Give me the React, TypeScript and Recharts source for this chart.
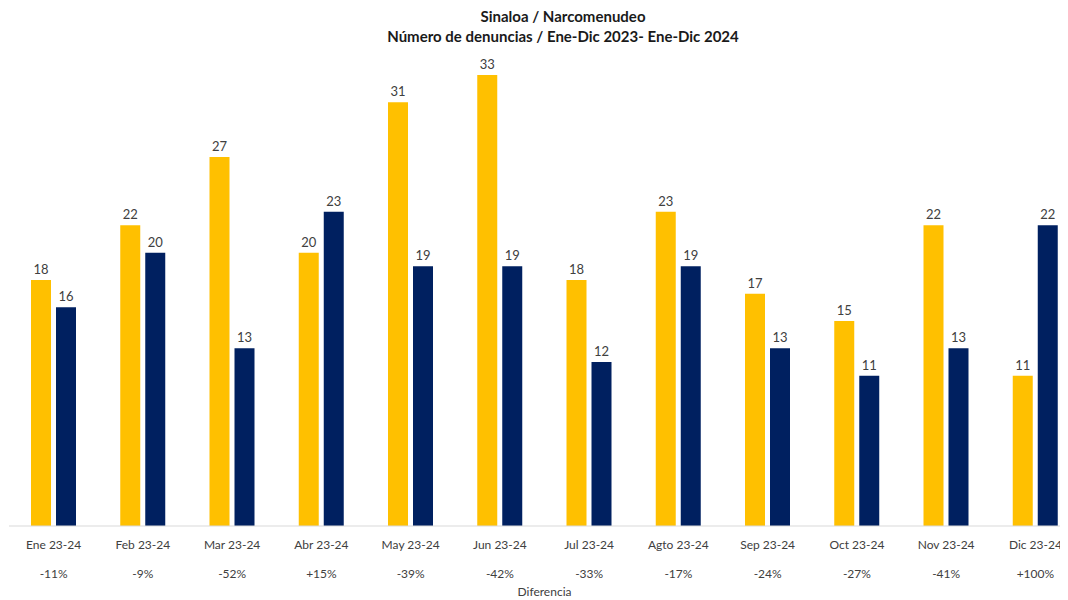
import React from 'react';
import {
  BarChart, Bar, XAxis, YAxis, LabelList,
} from 'recharts';

const months = [
  'Ene 23-24', 'Feb 23-24', 'Mar 23-24', 'Abr 23-24', 'May 23-24', 'Jun 23-24',
  'Jul 23-24', 'Agto 23-24', 'Sep 23-24', 'Oct 23-24', 'Nov 23-24', 'Dic 23-24',
];
const denuncias2023 = [18, 22, 27, 20, 31, 33, 18, 23, 17, 15, 22, 11];
const denuncias2024 = [16, 20, 13, 23, 19, 19, 12, 19, 13, 11, 13, 22];
const diferencia = [
  '-11%', '-9%', '-52%', '+15%', '-39%', '-42%',
  '-33%', '-17%', '-24%', '-27%', '-41%', '+100%',
];

const chartData = months.map((m, i) => ({
  mes: m,
  y2023: denuncias2023[i],
  y2024: denuncias2024[i],
  dif: diferencia[i],
}));

const FONT = 'Lato, "Open Sans", sans-serif';

function MonthTick(props: any) {
  const { x, y, payload, index } = props;
  return (
    <g>
      <text x={x} y={y + 15} textAnchor="middle" fontSize={12} fill="#404040" fontFamily={FONT}>
        {payload.value}
      </text>
      <text x={x} y={y + 44} textAnchor="middle" fontSize={12} fill="#404040" fontFamily={FONT}>
        {diferencia[index]}
      </text>
    </g>
  );
}

const titleStyle: React.CSSProperties = {
  position: 'absolute',
  left: 0,
  width: 1110,
  textAlign: 'center',
  fontFamily: FONT,
  fontWeight: 700,
  fontSize: 15,
  lineHeight: '16px',
  color: '#1a1a1a',
};

function App() {
  return (
    <div style={{ position: 'relative', width: 1060, height: 592, overflow: 'hidden' }}>
      <div style={{ ...titleStyle, top: 0 }}>Sinaloa / Narcomenudeo</div>
      <div style={{ ...titleStyle, top: 20 }}>Número de denuncias / Ene-Dic 2023- Ene-Dic 2024</div>
      <BarChart
        width={1080}
        height={592}
        data={chartData}
        margin={{ top: 67, right: 8, bottom: 0, left: 1 }}
        barGap={5}
      >
        <XAxis
          dataKey="mes"
          height={74}
          axisLine={{ stroke: '#d9d9d9' }}
          tickLine={false}
          interval={0}
          tick={<MonthTick />}
          label={{
            value: 'Diferencia', position: 'insideBottom', offset: 4, fontSize: 12, fill: '#404040', fontFamily: FONT,
          }}
        />
        <YAxis hide domain={[0, 33]} />
        <Bar dataKey="y2023" fill="#FFC000" barSize={20} isAnimationActive={false}>
          <LabelList dataKey="y2023" position="top" offset={6} fontSize={13} fill="#404040" fontFamily={FONT} />
        </Bar>
        <Bar dataKey="y2024" fill="#002060" barSize={20} isAnimationActive={false}>
          <LabelList dataKey="y2024" position="top" offset={6} fontSize={13} fill="#404040" fontFamily={FONT} />
        </Bar>
      </BarChart>
    </div>
  );
}

export default App;
